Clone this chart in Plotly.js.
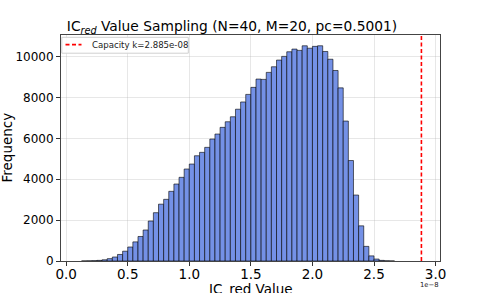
<!DOCTYPE html>
<html>
<head>
<meta charset="utf-8">
<script src="https://cdn.plot.ly/plotly-3.0.1.min.js"></script>
<style>html,body{margin:0;padding:0;background:#fff;}#chart{width:488px;height:293px;}</style>
</head>
<body>
<div id="chart"></div>
<script>
// Histogram of IC_red values (x in units of 1e-8), bins of width 1/24 (x1e-8)
const binWidth = 1 / 24;
const firstBinIndex = 3;
const counts = [
  3, 8, 15, 30, 60, 115, 195, 320, 480, 685,
  935, 1200, 1516, 1956, 2363, 2780, 3017, 3408, 3765, 4093,
  4499, 4743, 5149, 5315, 5560, 5966, 6210, 6538, 6812, 7056,
  7425, 7780, 8150, 8494, 8900, 8885, 9227, 9502, 9829, 10010,
  10235, 10367, 10303, 10528, 10410, 10500, 10530, 10250, 9870, 9320,
  8470, 6846, 4915, 3227, 1720, 715, 250, 95, 30, 10, 3
];
const capacityK = 2.885; // x1e-8
const capacityLabel = 'Capacity k=2.885e-08';
const xTickVals = [0.0, 0.5, 1.0, 1.5, 2.0, 2.5, 3.0];
const xTickText = ['0.0', '0.5', '1.0', '1.5', '2.0', '2.5', '3.0'];
const yTickVals = [0, 2000, 4000, 6000, 8000, 10000];
const yTickText = ['0', '2000', '4000', '6000', '8000', '10000'];

const centers = counts.map((c, i) => (firstBinIndex + i + 0.5) * binWidth);

// plot area in pixels
const L = 61, R = 48, T = 35, B = 32, W = 488, H = 293;
const pw = W - L - R, ph = H - T - B;
const px = p => (p - L) / pw;
const py = p => (H - B - p) / ph;

const trace = {
  type: 'bar',
  x: centers,
  y: counts,
  width: binWidth,
  marker: { color: 'rgb(116,145,230)', line: { color: 'rgba(0,0,0,0.6)', width: 1 } },
  hoverinfo: 'x+y',
  showlegend: false
};

const layout = {
  width: W, height: H,
  margin: { l: L, r: R, t: T, b: B, pad: 0 },
  paper_bgcolor: '#fff', plot_bgcolor: '#fff',
  font: { family: 'DejaVu Sans, sans-serif', color: '#000' },
  bargap: 0,
  showlegend: false,
  title: {
    text: 'IC<sub><i>red</i></sub> Value Sampling (N=40, M=20, pc=0.5001)',
    font: { size: 13.8, family: 'DejaVu Sans' },
    x: (232) / W, xanchor: 'center', xref: 'container',
    y: 1 - 26.5 / H, yanchor: 'middle', yref: 'container'
  },
  xaxis: {
    range: [-0.042, 3.036],
    tickvals: xTickVals, ticktext: xTickText,
    ticks: 'outside', ticklen: 4, tickwidth: 1, tickcolor: '#333',
    ticklabelstandoff: -3,
    tickfont: { size: 13.5, family: 'DejaVu Sans' },
    showgrid: true, gridcolor: 'rgba(176,176,176,0.3)', gridwidth: 1,
    showline: true, linecolor: '#444', linewidth: 1, mirror: true,
    zeroline: false, automargin: false, layer: 'above traces'
  },
  yaxis: {
    range: [0, 11056],
    tickvals: yTickVals, ticktext: yTickText,
    ticks: 'outside', ticklen: 4, tickwidth: 1, tickcolor: '#333',
    tickfont: { size: 12, family: 'DejaVu Sans' },
    showgrid: true, gridcolor: 'rgba(176,176,176,0.3)', gridwidth: 1,
    showline: true, linecolor: '#444', linewidth: 1, mirror: true,
    zeroline: false, automargin: false, layer: 'above traces'
  },
  shapes: [
    { type: 'line', xref: 'x', yref: 'paper', x0: capacityK, x1: capacityK, y0: 0, y1: 1,
      line: { color: 'red', width: 1.6, dash: '4px,2.5px' } },
    { type: 'rect', xref: 'paper', yref: 'paper',
      x0: px(61.8), x1: px(188.3), y0: py(53.2), y1: py(37.3),
      line: { color: '#d0d0d0', width: 1 }, fillcolor: 'rgba(255,255,255,0.85)' },
    { type: 'line', xref: 'paper', yref: 'paper',
      x0: px(65.5), x1: px(81.5), y0: py(44.6), y1: py(44.6),
      line: { color: 'red', width: 1.6, dash: '4px,2.5px' } }
  ],
  annotations: [
    { text: capacityLabel, xref: 'paper', yref: 'paper', x: px(89.5), y: py(44.8),
      xanchor: 'left', yanchor: 'middle', showarrow: false,
      font: { size: 8.6, family: 'DejaVu Sans', color: '#222' } },
    { text: 'IC_red Value', xref: 'paper', yref: 'paper', x: 0.5, y: py(279),
      xanchor: 'center', yanchor: 'top', showarrow: false,
      font: { size: 13.5, family: 'DejaVu Sans' } },
    { text: 'Frequency', xref: 'paper', yref: 'paper', x: px(6.5), y: 0.5,
      xanchor: 'center', yanchor: 'middle', textangle: -90, showarrow: false,
      font: { size: 13.5, family: 'DejaVu Sans' } },
    { text: '1e\u22128', xref: 'paper', yref: 'paper', x: px(440.5), y: py(284.5),
      xanchor: 'right', yanchor: 'middle', showarrow: false,
      font: { size: 6.8, family: 'DejaVu Sans', color: '#222' } }
  ]
};

Plotly.newPlot('chart', [trace], layout, { displayModeBar: false, staticPlot: true });
</script>
</body>
</html>
